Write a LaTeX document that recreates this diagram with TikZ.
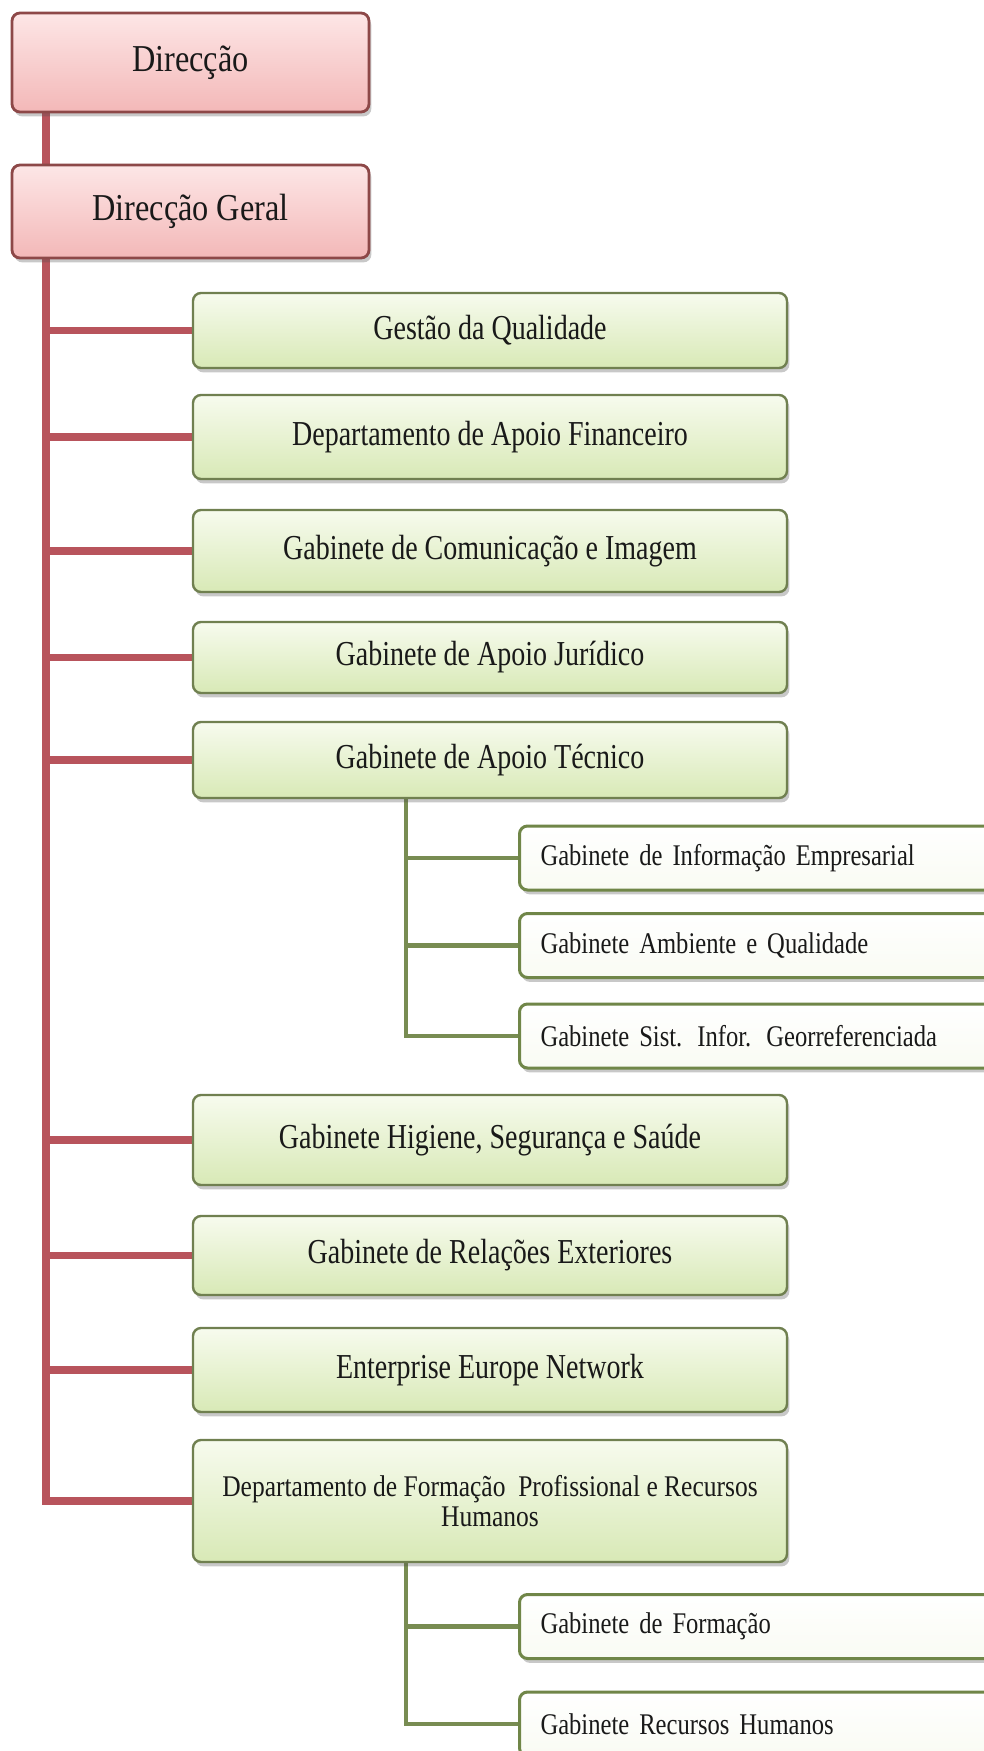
\documentclass[tikz,border=0pt]{standalone}
\usepackage{fontspec}
\setmainfont{Liberation Serif}
\newfontfamily\fa[FakeStretch=0.85]{Liberation Serif}
\newfontfamily\fb[FakeStretch=0.80]{Liberation Serif}
\newfontfamily\fc[FakeStretch=0.82]{Liberation Serif}
\usetikzlibrary{shadows,backgrounds}
\definecolor{redline}{RGB}{184,84,92}
\definecolor{pinktop}{RGB}{253,230,230}
\definecolor{pinkbot}{RGB}{243,184,184}
\definecolor{pinkborder}{RGB}{141,72,72}
\definecolor{greentop}{RGB}{247,251,238}
\definecolor{greenbot}{RGB}{216,233,182}
\definecolor{greenborder}{RGB}{112,128,80}
\definecolor{subborder}{RGB}{112,134,72}
\definecolor{subbot}{RGB}{249,251,243}
\definecolor{greenline}{RGB}{120,140,82}
\definecolor{txt}{RGB}{25,25,25}
\begin{document}
\begin{tikzpicture}[x=0.5pt,y=-0.5pt,
  boxshadow/.style={drop shadow={shadow xshift=1.2pt,shadow yshift=-2.2pt,opacity=0.3,fill=black!70}},
  lvlone/.style={draw=pinkborder,line width=1.4pt,rounded corners=4pt,
    top color=pinktop,bottom color=pinkbot,minimum width=178.5pt,
    text=txt,font=\fa\fontsize{19}{22}\selectfont,boxshadow},
  lvltwo/.style={draw=greenborder,line width=1.2pt,rounded corners=4pt,
    top color=greentop,bottom color=greenbot,minimum width=297pt,
    text=txt,font=\fb\fontsize{17.5}{20}\selectfont,boxshadow},
  lvlthree/.style={draw=subborder,line width=1.5pt,rounded corners=4pt,
    top color=white,bottom color=subbot,minimum width=255pt,
    minimum height=32pt,text width=234pt,inner xsep=10pt,align=left,anchor=west,
    text=txt,font=\fc\fontsize{15}{17}\selectfont,boxshadow},
  redconn/.style={draw=redline,line width=3.6pt},
  greenconn/.style={draw=greenline,line width=2.3pt}]
\path[use as bounding box] (0,0) rectangle (984,1751);
\clip (0,0) rectangle (984,1751);

\coordinate (rx) at (46,0);
\coordinate (gx) at (406,0);

\node[lvlone,minimum height=49.5pt] (dir) at (190.5,62.5) {Direcção};
\node[lvlone,minimum height=46.5pt] (geral) at (190.5,211.5) {Direcção Geral};

\node[lvltwo,minimum height=37.5pt] (b1) at (490,330.5) {Gestão da Qualidade};
\node[lvltwo,minimum height=42pt] (b2) at (490,437) {Departamento de Apoio Financeiro};
\node[lvltwo,minimum height=41pt] (b3) at (490,551) {Gabinete de Comunicação e Imagem};
\node[lvltwo,minimum height=35.5pt] (b4) at (490,657.5) {Gabinete de Apoio Jurídico};
\node[lvltwo,minimum height=38pt] (b5) at (490,760) {Gabinete de Apoio Técnico};
\node[lvltwo,minimum height=45pt] (b6) at (490,1140) {Gabinete Higiene, Segurança e Saúde};
\node[lvltwo,minimum height=39.5pt] (b7) at (490,1255.5) {Gabinete de Relações Exteriores};
\node[lvltwo,minimum height=42pt] (b8) at (490,1370) {Enterprise Europe Network};
\node[lvltwo,minimum height=61pt,align=center,font=\fa\fontsize{15}{15}\selectfont] (b9) at (490,1501)
  {Departamento de Formação\ \ Profissional e Recursos\\Humanos};

\node[lvlthree] (s1) at (518,858) {Gabinete de Informação Empresarial};
\node[lvlthree] (s2) at (518,945.5) {Gabinete Ambiente e Qualidade};
\node[lvlthree] (s3) at (518,1036) {Gabinete Sist. Infor. Georreferenciada};
\node[lvlthree] (s4) at (518,1626.5) {Gabinete de Formação};
\node[lvlthree] (s5) at (518,1724) {Gabinete Recursos Humanos};

\begin{scope}[on background layer]
  \fill[white] (0,0) rectangle (984,1751);
  \draw[redconn] (dir.south -| rx) -- (geral.north -| rx);
  \draw[redconn] (geral.south -| rx) |- (b9.west);
  \foreach \bn in {b1,b2,b3,b4,b5,b6,b7,b8}
    \draw[redconn] (rx |- \bn.west) -- (\bn.west);
  \draw[greenconn] (b5.south -| gx) |- (s3.west);
  \foreach \sn in {s1,s2}
    \draw[greenconn] (gx |- \sn.west) -- (\sn.west);
  \draw[greenconn] (b9.south -| gx) |- (s5.west);
  \draw[greenconn] (gx |- s4.west) -- (s4.west);
\end{scope}
\end{tikzpicture}
\end{document}
